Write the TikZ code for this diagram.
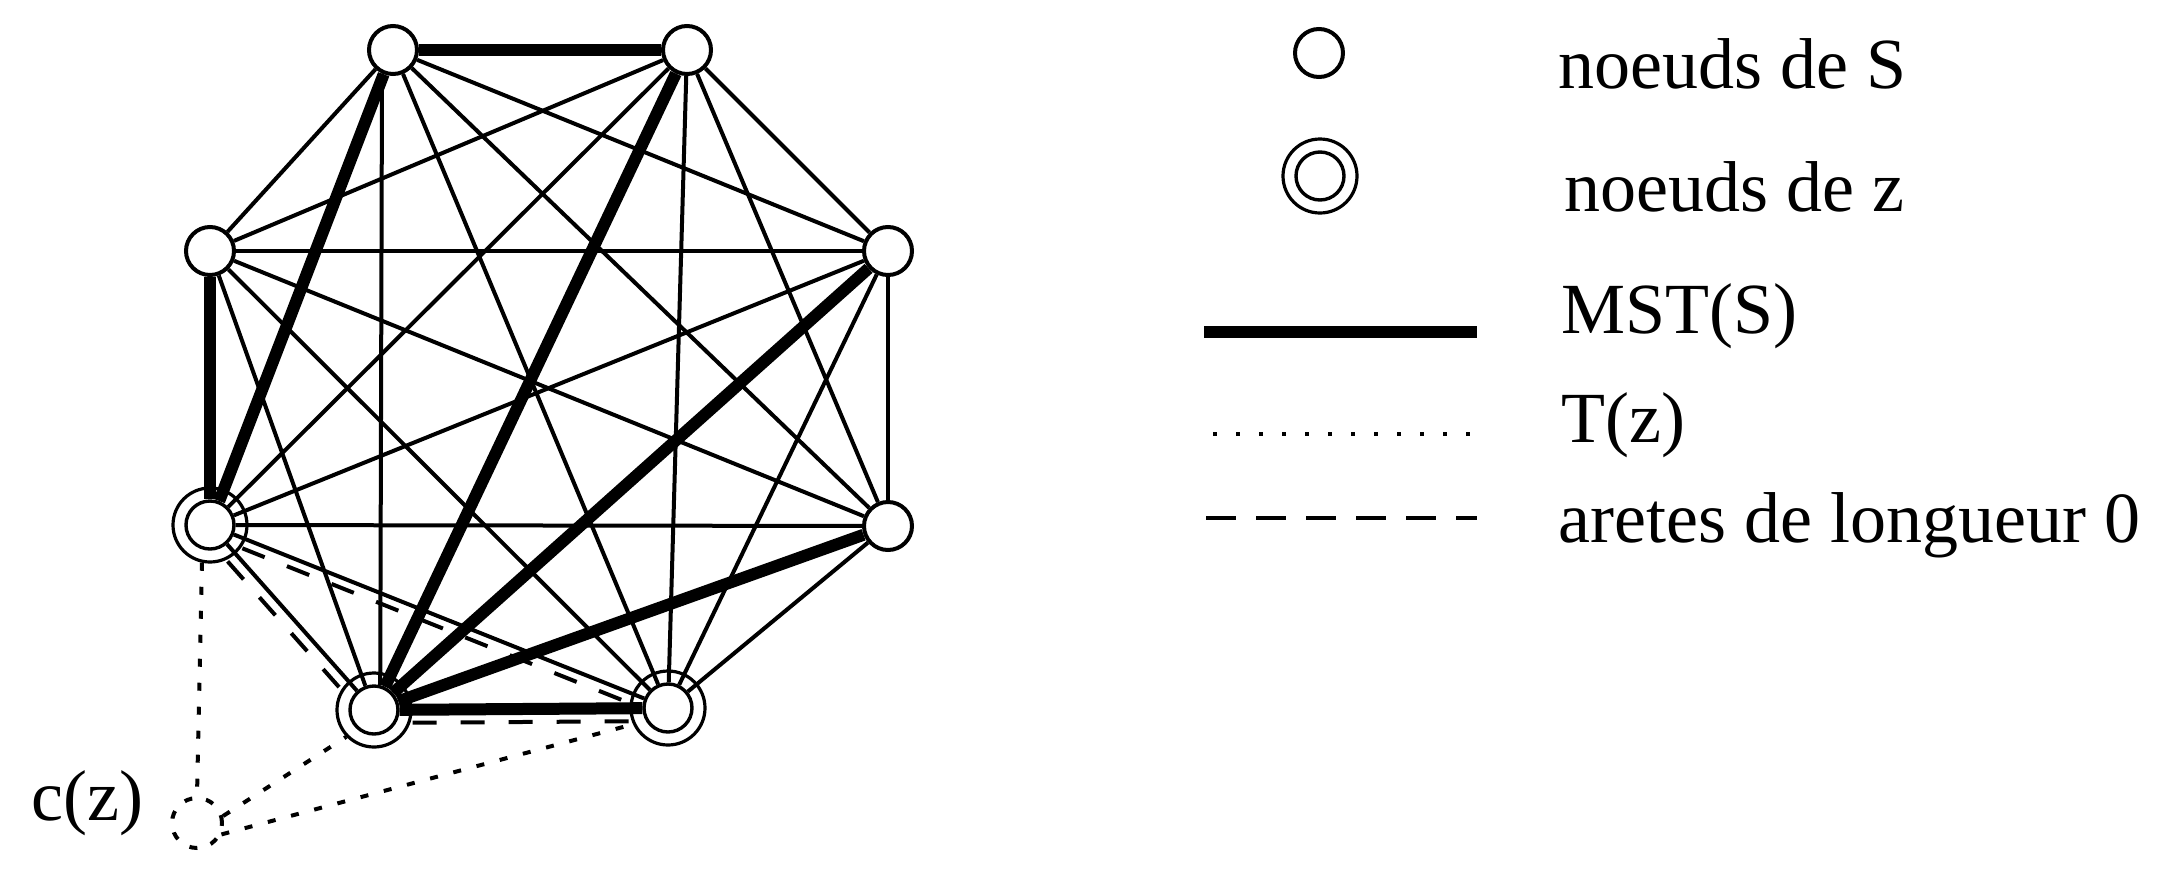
\documentclass[tikz,border=0pt]{standalone}
\usepackage{fontspec}
\setmainfont{Liberation Serif}
\newfontfamily\timesfont{Liberation Serif}
\begin{document}
\begin{tikzpicture}[x=0.5pt,y=-0.5pt,
  snode/.style={circle,draw,line width=2pt,fill=white,minimum size=24pt,inner sep=0pt},
  znode/.style={circle,draw,line width=1.7pt,fill=white,minimum size=24pt,inner sep=0pt},
  zring/.style={circle,draw,line width=1.6pt,minimum size=37pt,inner sep=0pt},
  cznode/.style={circle,draw,line width=2pt,dash pattern=on 4pt off 7pt,minimum size=25pt,inner sep=0pt},
  thin/.style={line width=2pt},
  mst/.style={line width=6pt},
  tz/.style={line width=2pt,dash pattern=on 4pt off 8pt},
  zero/.style={line width=2pt,dash pattern=on 12pt off 12pt},
  lbl/.style={inner sep=0pt,anchor=base west,font=\timesfont\fontsize{36pt}{43pt}\selectfont}]
\useasboundingbox (0,0) rectangle (2175,879);
\fill[white] (0,0) rectangle (2175,879);

% rings of the nodes of z
\node[zring] (LLo) at (210,525) {};
\node[zring] (BLo) at (374,710) {};
\node[zring] (BRo) at (668,708) {};

% nodes
\node[snode] (TL) at (393,50) {};
\node[snode] (TR) at (687,50) {};
\node[snode] (LU) at (210,251) {};
\node[snode] (RU) at (888,251) {};
\node[snode] (RL) at (888,526) {};
\node[znode] (LL) at (210,525) {};
\node[znode] (BL) at (374,710) {};
\node[znode] (BR) at (668,708) {};
\node[cznode] (cz) at (197,823) {};
\node[lbl] (czl) at (31,820) {c(z)};

% thin edges
\draw[thin] (TL) -- (LU);
\draw[thin] (TL) -- (RU);
\draw[thin] (TL) -- (RL);
\draw[thin] (TL.245) -- (BL.76);
\draw[thin] (TL) -- (BR);
\draw[thin] (TR) -- (LU);
\draw[thin] (TR) -- (RU);
\draw[thin] (TR) -- (RL);
\draw[thin] (TR) -- (LL);
\draw[thin] (TR) -- (BR);
\draw[thin] (LU) -- (RU);
\draw[thin] (LU) -- (RL);
\draw[thin] (LU) -- (BL);
\draw[thin] (LU) -- (BR);
\draw[thin] (RU) -- (RL);
\draw[thin] (RU) -- (LL);
\draw[thin] (RU) -- (BR);
\draw[thin] (RL) -- (LL);
\draw[thin] (RL) -- (BR);
\draw[thin] (LL) -- (BL);
\draw[thin] (LL) -- (BR);

% MST(S)
\draw[mst] (TL) -- (TR);
\draw[mst] (TL) -- (LL);
\draw[mst] (LU) -- (LL);
\draw[mst] (TR) -- (BL);
\draw[mst] (RU) -- (BL);
\draw[mst] (RL) -- (BL);
\draw[mst] (BL) -- (BR);

% zero-length edges
\draw[zero,transform canvas={shift={(-8,7.5)}}] (LLo) -- (BLo);
\draw[zero,transform canvas={shift={(-3.5,9)}}] (LLo) -- (BRo);
\draw[zero,transform canvas={shift={(0,13)}}] (BLo) -- (BRo);

% T(z)
\draw[tz] (LLo.258) -- (cz.north);
\draw[tz] (cz.15) -- (BLo.224);
\draw[tz] (cz.-25) -- (BRo.205);

% legend
\node[snode] (Sleg) at (1319,53) {};
\node[zring] (zlego) at (1320,176) {};
\node[znode] (zleg) at (1320,176) {};
\coordinate (m1) at (1204,332);
\coordinate (m2) at (1477,332);
\draw[line width=6pt] (m1) -- (m2);
\coordinate (d1) at (1213,434);
\coordinate (d2) at (1472,434);
\draw[line width=2pt,dash pattern=on 2pt off 9.5pt] (d1) -- (d2);
\coordinate (e1) at (1206,518);
\coordinate (e2) at (1477,518);
\draw[line width=2pt,dash pattern=on 15pt off 10pt] (e1) -- (e2);

\node[lbl] (t1) at (1558,88) {noeuds de S};
\node[lbl] (t2) at (1564,211) {noeuds de z};
\node[lbl] (t3) at (1561,333) {MST(S)};
\node[lbl] (t4) at (1561,442) {T(z)};
\node[lbl] (t5) at (1558,542) {aretes de longueur 0};
\end{tikzpicture}
\end{document}
